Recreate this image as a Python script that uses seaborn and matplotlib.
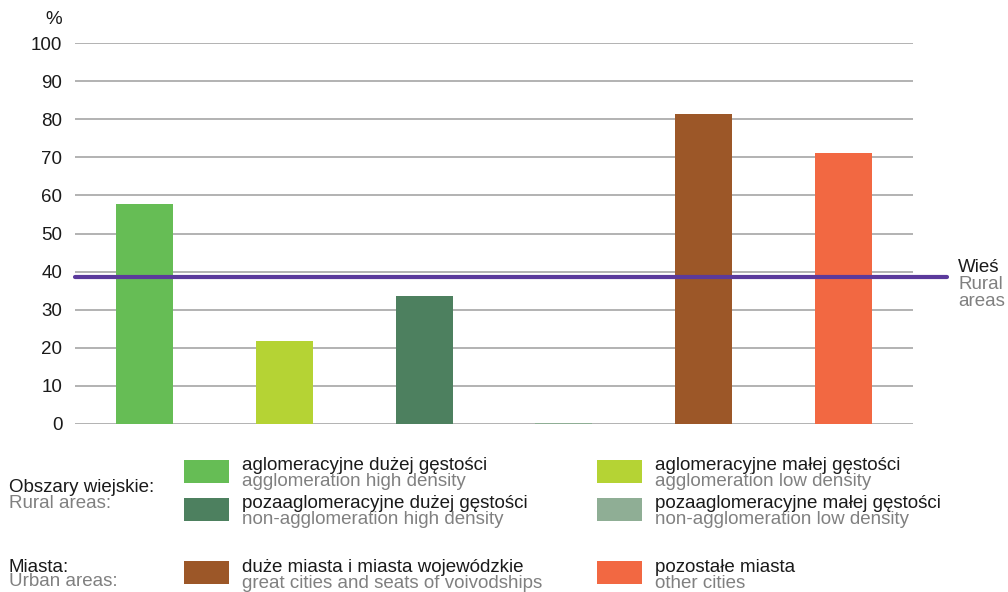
import matplotlib
matplotlib.use("Agg")
import matplotlib.pyplot as plt
from matplotlib.patches import Rectangle
import seaborn as sns
import pandas as pd

# Data
categories_pl = ["aglomeracyjne dużej gęstości", "aglomeracyjne małej gęstości",
                 "pozaaglomeracyjne dużej gęstości", "pozaaglomeracyjne małej gęstości",
                 "duże miasta i miasta wojewódzkie", "pozostałe miasta"]
categories_en = ["agglomeration high density", "agglomeration low density",
                 "non-agglomeration high density", "non-agglomeration low density",
                 "great cities and seats of voivodships", "other cities"]
values = [57.7, 21.8, 33.6, 0.3, 81.4, 71.1]
rural_avg = 38.6
colors = ["#66bd55", "#b5d334", "#4d805f", "#8fae95", "#9c5728", "#f26842"]
yticks = [0, 10, 20, 30, 40, 50, 60, 70, 80, 90, 100]

df = pd.DataFrame({"cat": categories_pl, "val": values})

sns.set_theme(style="white")
plt.rcParams["font.family"] = ["Liberation Sans", "DejaVu Sans"]

FS = 13.5
DARK = "#1a1a1a"
GRAY = "#808080"

W, H = 1008, 592
fig = plt.figure(figsize=(W / 100, H / 100), dpi=100)
ax = fig.add_axes([75 / W, 1 - 424 / H, (913 - 75) / W, (424 - 43) / H])

for t in yticks:
    ax.axhline(t, color="#a6a6a6", lw=1.2, zorder=0)

sns.barplot(data=df, x="cat", y="val", hue="cat", palette=colors,
            width=0.41, legend=False, ax=ax, saturation=1, linewidth=0, zorder=2)

ax.axhline(rural_avg, color="#5b3a9c", lw=3, zorder=3, xmax=(947 - 75) / (913 - 75),
           clip_on=False)

ax.set_xlim(-0.5, 5.5)
ax.set_ylim(0, 100)
ax.set_yticks(yticks)
ax.set_yticklabels([str(t) for t in yticks], fontsize=FS, color=DARK)
ax.tick_params(axis="y", length=0, pad=9)
ax.set_xticks([])
ax.set_xlabel("")
ax.set_ylabel("")
for s in ax.spines.values():
    s.set_visible(False)

fig.text(62 / W, 1 - 20 / H, "%", fontsize=FS, color=DARK, ha="right", va="center")

# Rural areas label on the right
fig.text(958 / W, 1 - 268 / H, "Wieś", fontsize=FS, color=DARK, va="center")
fig.text(958 / W, 1 - 285 / H, "Rural", fontsize=FS, color=GRAY, va="center")
fig.text(958 / W, 1 - 302 / H, "areas", fontsize=FS, color=GRAY, va="center")

# Legend
fig.text(9 / W, 1 - 487 / H, "Obszary wiejskie:", fontsize=FS, color=DARK, va="center")
fig.text(9 / W, 1 - 503 / H, "Rural areas:", fontsize=FS, color=GRAY, va="center")
fig.text(9 / W, 1 - 567 / H, "Miasta:", fontsize=FS, color=DARK, va="center")
fig.text(9 / W, 1 - 582 / H, "Urban areas:", fontsize=FS, color=GRAY, va="center")

# (patch x, patch top y, text x) for each category
slots = [(184, 460, 242), (597, 460, 655), (184, 498, 242), (597, 498, 655),
         (184, 561, 242), (597, 561, 655)]
for (px, py, tx), pl, en, c in zip(slots, categories_pl, categories_en, colors):
    fig.add_artist(Rectangle((px / W, 1 - (py + 23) / H), 45 / W, 23 / H,
                             transform=fig.transFigure, color=c, lw=0))
    fig.text(tx / W, 1 - (py + 6) / H, pl, fontsize=FS, color=DARK, va="center")
    fig.text(tx / W, 1 - (py + 22) / H, en, fontsize=FS, color=GRAY, va="center")

fig.savefig("out.png", dpi=100)
